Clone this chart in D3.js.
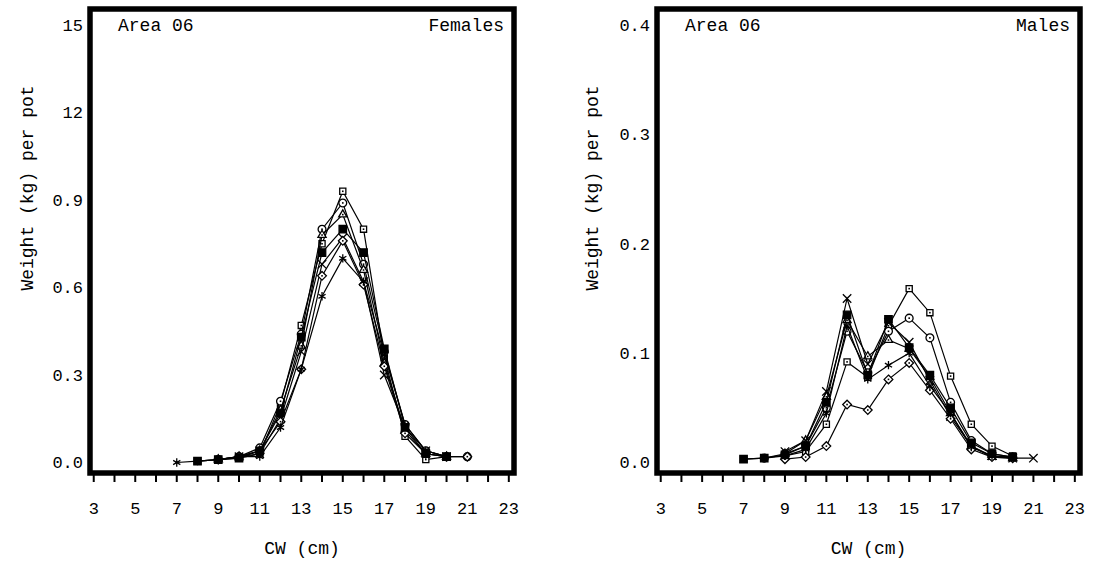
<!DOCTYPE html>
<html>
<head>
<meta charset="utf-8">
<script src="https://cdn.jsdelivr.net/npm/d3@7"></script>
<style>
  body { margin: 0; background: #fff; }
  svg text { font-family: "Liberation Mono", "DejaVu Sans Mono", monospace; fill: #000; }
</style>
</head>
<body>
<svg id="chart" width="1094" height="567"></svg>
<script>
// CW classes (cm)
const cw = [7, 8, 9, 10, 11, 12, 13, 14, 15, 16, 17, 18, 19, 20, 21];

// Females, weight (kg) per pot, one array per year
const femA = [null, 0.005, 0.01, 0.015, 0.03, 0.20, 0.47, 0.75, 0.93, 0.80, 0.36, 0.09, 0.01, 0.02, null];
const femB = [null, null, 0.01, 0.02, 0.05, 0.21, 0.44, 0.80, 0.89, 0.68, 0.38, 0.13, 0.04, 0.02, 0.02];
const femC = [null, null, 0.01, 0.02, 0.04, 0.18, 0.40, 0.78, 0.85, 0.66, 0.34, 0.11, 0.03, 0.02, null];
const femD = [null, null, null, 0.02, 0.03, 0.15, 0.38, 0.68, 0.77, 0.62, 0.30, 0.12, 0.04, 0.02, null];
const femE = [null, null, 0.01, 0.02, 0.04, 0.14, 0.32, 0.64, 0.76, 0.61, 0.33, 0.10, 0.03, 0.02, 0.02];
const femF = [0.0, 0.005, 0.01, 0.02, 0.02, 0.12, 0.32, 0.57, 0.70, 0.62, 0.37, 0.13, 0.04, 0.02, null];
const femG = [null, 0.005, 0.01, 0.015, 0.04, 0.17, 0.43, 0.72, 0.80, 0.72, 0.39, 0.12, 0.03, 0.02, null];

// Males
const malA = [0.003, 0.004, 0.006, 0.01, 0.035, 0.092, 0.078, 0.125, 0.159, 0.137, 0.079, 0.035, 0.015, 0.006, null];
const malB = [null, 0.004, 0.008, 0.015, 0.05, 0.12, 0.082, 0.12, 0.132, 0.114, 0.055, 0.02, 0.008, 0.005, null];
const malC = [null, null, 0.008, 0.02, 0.06, 0.13, 0.097, 0.112, 0.104, 0.078, 0.045, 0.015, 0.005, 0.004, null];
const malD = [null, null, 0.01, 0.02, 0.065, 0.15, 0.09, 0.128, 0.11, 0.075, 0.042, 0.015, 0.006, 0.004, 0.004];
const malE = [null, null, 0.006, 0.012, 0.045, 0.125, 0.076, 0.089, 0.10, 0.07, 0.045, 0.014, 0.006, 0.005, null];
const malF = [null, null, 0.003, 0.005, 0.015, 0.053, 0.048, 0.076, 0.091, 0.066, 0.04, 0.012, 0.005, 0.004, null];
const malG = [0.003, 0.004, 0.007, 0.015, 0.055, 0.135, 0.08, 0.131, 0.105, 0.08, 0.05, 0.018, 0.008, 0.005, null];

const markers = ["square", "circle", "triangle", "times", "diamond", "asterisk", "filled"];

const xTicks = d3.range(3, 24);
const xLabels = ["3", "5", "7", "9", "11", "13", "15", "17", "19", "21", "23"];
const femTicks = [0, 0.3, 0.6, 0.9, 1.2, 1.5];
const femTickLabels = ["0.0", "0.3", "0.6", "0.9", "12", "15"];
const malTicks = [0, 0.1, 0.2, 0.3, 0.4];
const malTickLabels = ["0.0", "0.1", "0.2", "0.3", "0.4"];

const svg = d3.select("#chart");

function symbolFor(name) {
  switch (name) {
    case "square": return d3.symbolSquare2;
    case "circle": return d3.symbolCircle;
    case "triangle": return d3.symbolTriangle2;
    case "times": return d3.symbolTimes;
    case "diamond": return d3.symbolDiamond2;
    case "asterisk": return d3.symbolAsterisk;
    default: return d3.symbolSquare;
  }
}

function drawPanel(p) {
  const x = d3.scaleLinear().domain([2.82, 23.25]).range([p.left, p.right]);
  const y = d3.scaleLinear().domain(p.yDomain).range([p.bottom, p.top]);
  const g = svg.append("g");

  // series
  p.series.forEach((vals, i) => {
    const pts = cw.map((c, j) => ({ c: c, v: vals[j] })).filter(d => d.v != null);
    g.append("path")
      .datum(pts)
      .attr("fill", "none")
      .attr("stroke", "#000")
      .attr("stroke-width", 1.2)
      .attr("d", d3.line().x(d => x(d.c)).y(d => y(d.v)));

    const m = markers[i];
    const sym = d3.symbol().type(symbolFor(m)).size(m === "filled" ? 55 : 48);
    const mk = g.selectAll(null).data(pts).enter().append("g")
      .attr("transform", d => `translate(${x(d.c)},${y(d.v)})`);
    mk.append("path")
      .attr("d", sym)
      .attr("fill", m === "filled" ? "#000" : (m === "times" || m === "asterisk" ? "none" : "#fff"))
      .attr("stroke", "#000")
      .attr("stroke-width", 1.3);
    if (m !== "filled" && m !== "times" && m !== "asterisk") {
      mk.append("rect").attr("x", -0.8).attr("y", -0.8).attr("width", 1.6).attr("height", 1.6).attr("fill", "#000");
    }
  });

  // frame
  g.append("rect")
    .attr("x", p.left).attr("y", p.top)
    .attr("width", p.right - p.left).attr("height", p.bottom - p.top)
    .attr("fill", "none").attr("stroke", "#000").attr("stroke-width", 5.5);

  // x ticks
  g.selectAll(null).data(xTicks).enter().append("line")
    .attr("x1", d => x(d)).attr("x2", d => x(d))
    .attr("y1", p.bottom + 2).attr("y2", p.bottom + 9)
    .attr("stroke", "#000").attr("stroke-width", 2);

  g.selectAll(null).data(xLabels).enter().append("text")
    .attr("x", d => x(+d)).attr("y", p.bottom + 41)
    .attr("text-anchor", "middle")
    .style("font-size", "17px")
    .text(d => d);

  // y labels
  g.selectAll(null).data(p.yTicks).enter().append("text")
    .attr("x", p.left - 7).attr("y", d => y(d))
    .attr("dy", "0.35em")
    .attr("text-anchor", "end")
    .style("font-size", "17px")
    .text((d, i) => p.yLabels[i]);

  // titles
  g.append("text").attr("x", p.left + 28).attr("y", 31)
    .style("font-size", "18px").text("Area 06");
  g.append("text").attr("x", p.right - 10).attr("y", 31)
    .attr("text-anchor", "end").style("font-size", "18px").text(p.sex);

  g.append("text")
    .attr("transform", `translate(${p.yTitleX},188) rotate(-90)`)
    .attr("text-anchor", "middle").attr("dy", "0.35em")
    .style("font-size", "18px").text("Weight (kg) per pot");

  g.append("text")
    .attr("x", (p.left + p.right) / 2).attr("y", 554)
    .attr("text-anchor", "middle")
    .style("font-size", "18px").text("CW (cm)");
}

drawPanel({
  left: 90, right: 514, top: 9, bottom: 473,
  yDomain: [-0.036, 1.555],
  yTicks: femTicks, yLabels: femTickLabels,
  series: [femA, femB, femC, femD, femE, femF, femG],
  sex: "Females", yTitleX: 27
});

drawPanel({
  left: 657, right: 1080, top: 9, bottom: 473,
  yDomain: [-0.0096, 0.4147],
  yTicks: malTicks, yLabels: malTickLabels,
  series: [malA, malB, malC, malD, malF, malE, malG],
  sex: "Males", yTitleX: 592
});
</script>
</body>
</html>
